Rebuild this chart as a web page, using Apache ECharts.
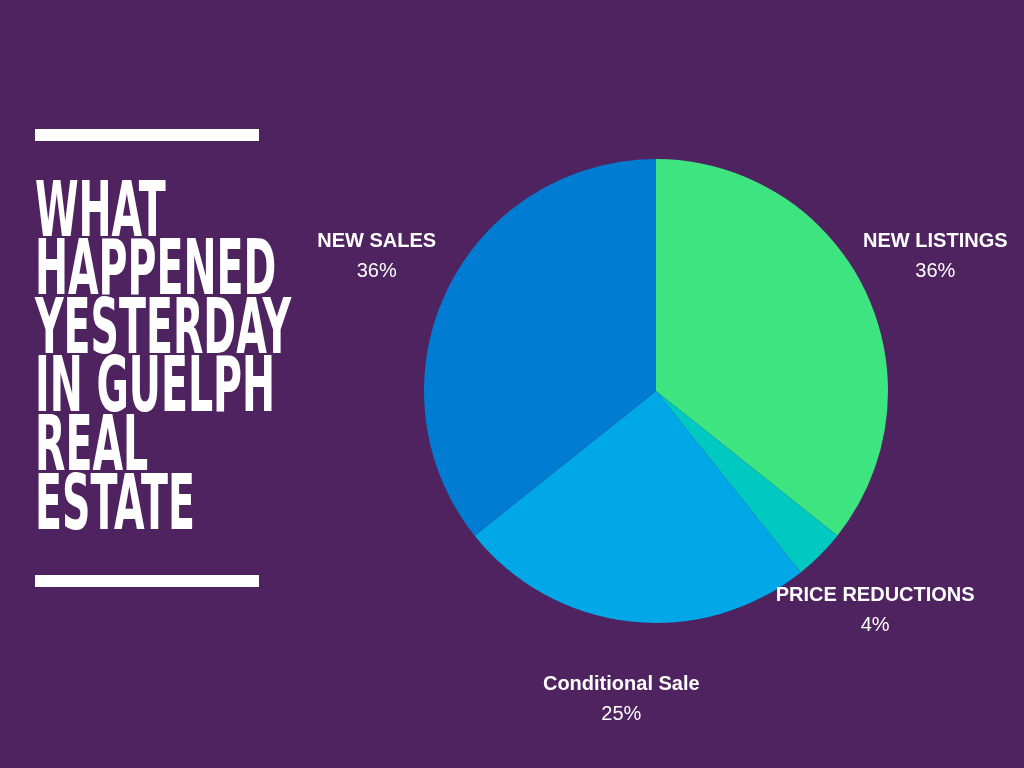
<!DOCTYPE html>
<html><head><meta charset="utf-8">
<script src="https://cdn.jsdelivr.net/npm/echarts@6/dist/echarts.min.js"></script>
<style>html,body{margin:0;background:#4f235f}#c{width:1024px;height:768px}</style>
</head><body><div id="c"></div>
<script>
const categories = ['NEW LISTINGS','PRICE REDUCTIONS','Conditional Sale','NEW SALES'];
const values = [10,1,7,10];
const colors = ['#3de480','#00c9c2','#00a8e8','#007dd3'];
const titleLines = ['WHAT','HAPPENED','YESTERDAY','IN GUELPH','REAL','ESTATE'];
const chart = echarts.init(document.getElementById('c'));
const graphics = [
  {type:'rect',shape:{x:35,y:129,width:224,height:12},style:{fill:'#fff'}},
  {type:'rect',shape:{x:35,y:575,width:224,height:12},style:{fill:'#fff'}}
];
titleLines.forEach((t,i)=>graphics.push({type:'text',x:35,y:177+i*58.6,scaleX:0.57,
  style:{text:t,fill:'#fff',font:'bold 77px "DejaVu Sans Condensed"',textVerticalAlign:'top'}}));
chart.setOption({
  backgroundColor:'#4f235f',
  graphic:graphics,
  series:[{type:'pie',center:[656,391],radius:232,startAngle:90,clockwise:true,
    data:categories.map((n,i)=>({name:n,value:values[i],itemStyle:{color:colors[i]}})),
    label:{show:true,position:'outside',color:'#fff',lineHeight:30,overflow:'none',
      formatter:p=>'{b|'+p.name+'}\n{d|'+Math.round(p.percent)+'%}',
      rich:{b:{fontFamily:'Liberation Sans',fontWeight:'bold',fontSize:20,color:'#fff',lineHeight:30,align:'center'},
            d:{fontFamily:'Liberation Sans',fontSize:20,color:'#fff',lineHeight:30,align:'center'}}},
    labelLine:{show:false,length:78,length2:0},
    labelLayout:p=>{const pt=p.labelLinePoints[2];return {x:pt[0],y:pt[1],align:'center',verticalAlign:'middle'};},
    emphasis:{disabled:true}, animation:false}]
});
</script></body></html>
